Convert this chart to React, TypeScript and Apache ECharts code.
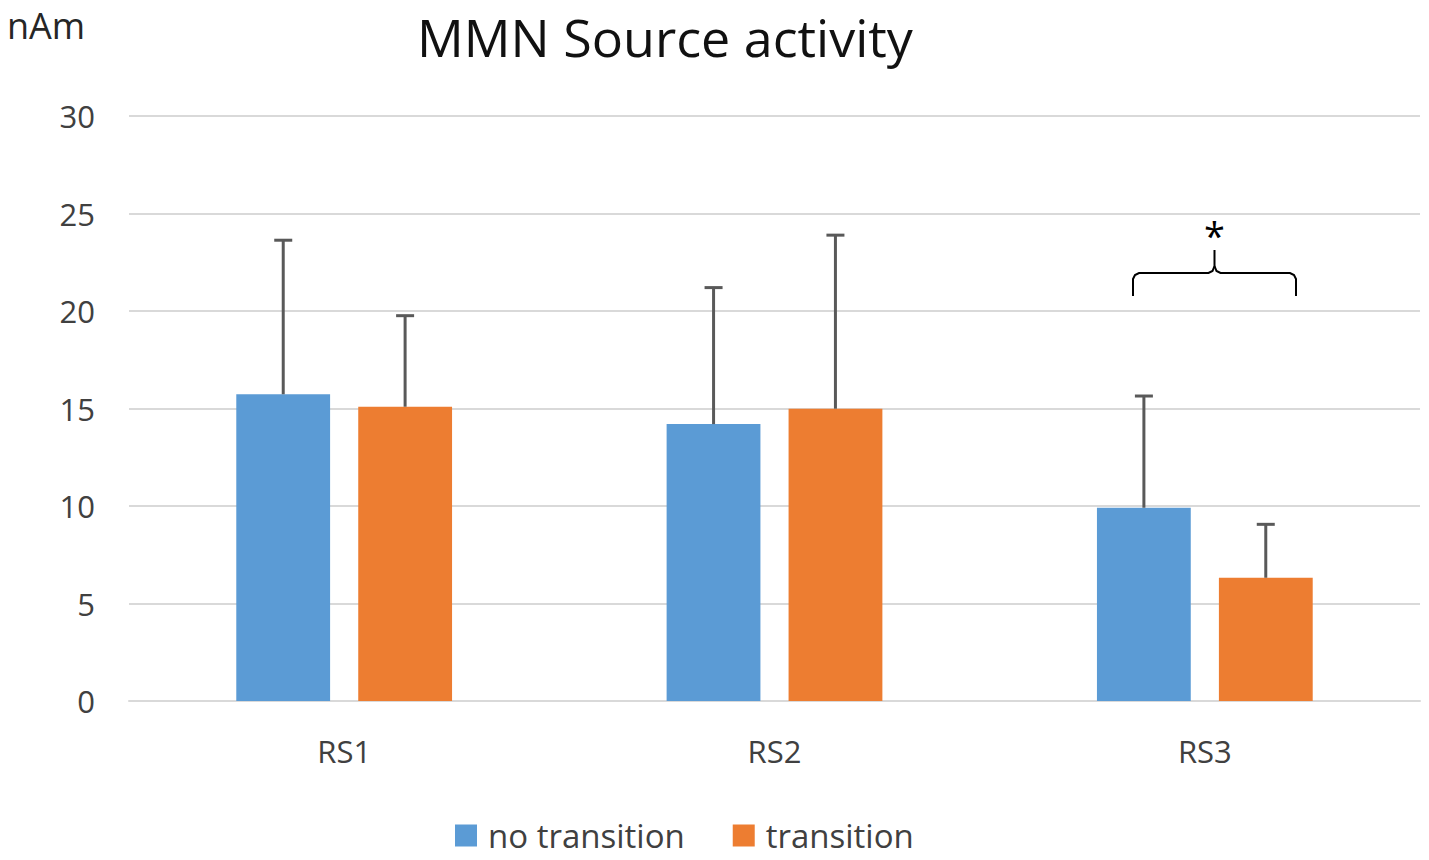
import React, { useEffect, useRef } from "react";
import * as echarts from "echarts";

const categories = ["RS1", "RS2", "RS3"];
const noTransition = [15.73, 14.2, 9.91];
const transition = [15.09, 14.99, 6.32];
const noTransitionSD = [7.9, 7.0, 5.73];
const transitionSD = [4.67, 8.9, 2.74];
const seriesNames = ["no transition", "transition"];
const yMin = 0;
const yMax = 30;
const yInterval = 5;

const FONT = "'Open Sans', 'Noto Sans', sans-serif";
const BLUE = "#5B9BD5";
const ORANGE = "#ED7D31";
const ERR = "#595959";

function errorSeries(means: number[], sds: number[], offsetFrac: number) {
  return {
    type: "custom",
    name: "err",
    z: 5,
    silent: true,
    data: means.map((m, i) => [i, m, sds[i]]),
    encode: { x: 0, y: 1 },
    renderItem: (params: any, api: any) => {
      const i = api.value(0);
      const m = api.value(1);
      const sd = api.value(2);
      const band = api.size([1, 0])[0];
      const base = api.coord([i, m]);
      const top = api.coord([i, m + sd]);
      const x = base[0] + offsetFrac * band;
      return {
        type: "group",
        children: [
          {
            type: "line",
            shape: { x1: x, y1: base[1], x2: x, y2: top[1] },
            style: { stroke: ERR, lineWidth: 3 },
          },
          {
            type: "line",
            shape: { x1: x - 9, y1: top[1], x2: x + 9, y2: top[1] },
            style: { stroke: ERR, lineWidth: 3 },
          },
        ],
      };
    },
  };
}

export default function App() {
  const ref = useRef<HTMLDivElement>(null);
  useEffect(() => {
    if (!ref.current) return;
    const chart = echarts.init(ref.current, undefined, { renderer: "svg" });
    const bx = 1133, ex = 1296, cx = 1214.5, hy = 273, by = 296, py = 250;
    chart.setOption({
      animation: false,
      backgroundColor: "#ffffff",
      grid: { left: 129, right: 9, top: 116, bottom: 159, containLabel: false },
      xAxis: {
        type: "category",
        data: categories,
        axisLine: { show: true, lineStyle: { color: "#d9d9d9", width: 2 } },
        axisTick: { show: false },
        axisLabel: { color: "#404040", fontSize: 31, fontFamily: FONT, margin: 34 },
      },
      yAxis: {
        type: "value",
        min: yMin,
        max: yMax,
        interval: yInterval,
        axisLine: { show: false },
        axisTick: { show: false },
        splitLine: { lineStyle: { color: "#d9d9d9", width: 2 } },
        axisLabel: { color: "#404040", fontSize: 31, fontFamily: FONT, margin: 34 },
      },
      legend: {
        data: seriesNames,
        left: 455,
        top: 819,
        padding: 0,
        itemWidth: 22,
        itemHeight: 22,
        itemGap: 48,
        icon: "rect",
        textStyle: {
          color: "#404040",
          fontSize: 33,
          fontFamily: FONT,
          lineHeight: 28,
          padding: [0, 0, 0, 6],
        },
      },
      graphic: [
        {
          type: "text",
          x: 417,
          y: 36,
          style: {
            text: "MMN Source activity",
            font: `52px ${FONT}`,
            fill: "#111111",
            verticalAlign: "middle",
          },
        },
        {
          type: "text",
          x: 7,
          y: 25,
          style: {
            text: "nAm",
            font: `36px ${FONT}`,
            fill: "#262626",
            verticalAlign: "middle",
          },
        },
        {
          type: "polyline",
          shape: {
            points: [
              [bx, by], [bx, hy + 6], [bx + 2, hy + 2], [bx + 6, hy],
              [cx - 6, hy], [cx - 2, hy - 2], [cx, hy - 7], [cx, py],
            ],
          },
          style: { stroke: "#000", lineWidth: 2, fill: null },
        },
        {
          type: "polyline",
          shape: {
            points: [
              [ex, by], [ex, hy + 6], [ex - 2, hy + 2], [ex - 6, hy],
              [cx + 6, hy], [cx + 2, hy - 2], [cx, hy - 7],
            ],
          },
          style: { stroke: "#000", lineWidth: 2, fill: null },
        },
        {
          type: "text",
          x: cx,
          y: 235,
          style: {
            text: "*",
            font: `38px ${FONT}`,
            fill: "#000",
            align: "center",
            verticalAlign: "middle",
          },
        },
      ],
      series: [
        {
          name: seriesNames[0],
          type: "bar",
          data: noTransition,
          barWidth: "21.8%",
          barGap: "30%",
          itemStyle: { color: BLUE },
        },
        {
          name: seriesNames[1],
          type: "bar",
          data: transition,
          barWidth: "21.8%",
          barGap: "30%",
          itemStyle: { color: ORANGE },
        },
        errorSeries(noTransition, noTransitionSD, -0.1416),
        errorSeries(transition, transitionSD, 0.1416),
      ],
    });
    return () => chart.dispose();
  }, []);
  return (
    <div
      ref={ref}
      style={{ position: "fixed", left: 0, top: 0, width: 1429, height: 860 }}
    />
  );
}
